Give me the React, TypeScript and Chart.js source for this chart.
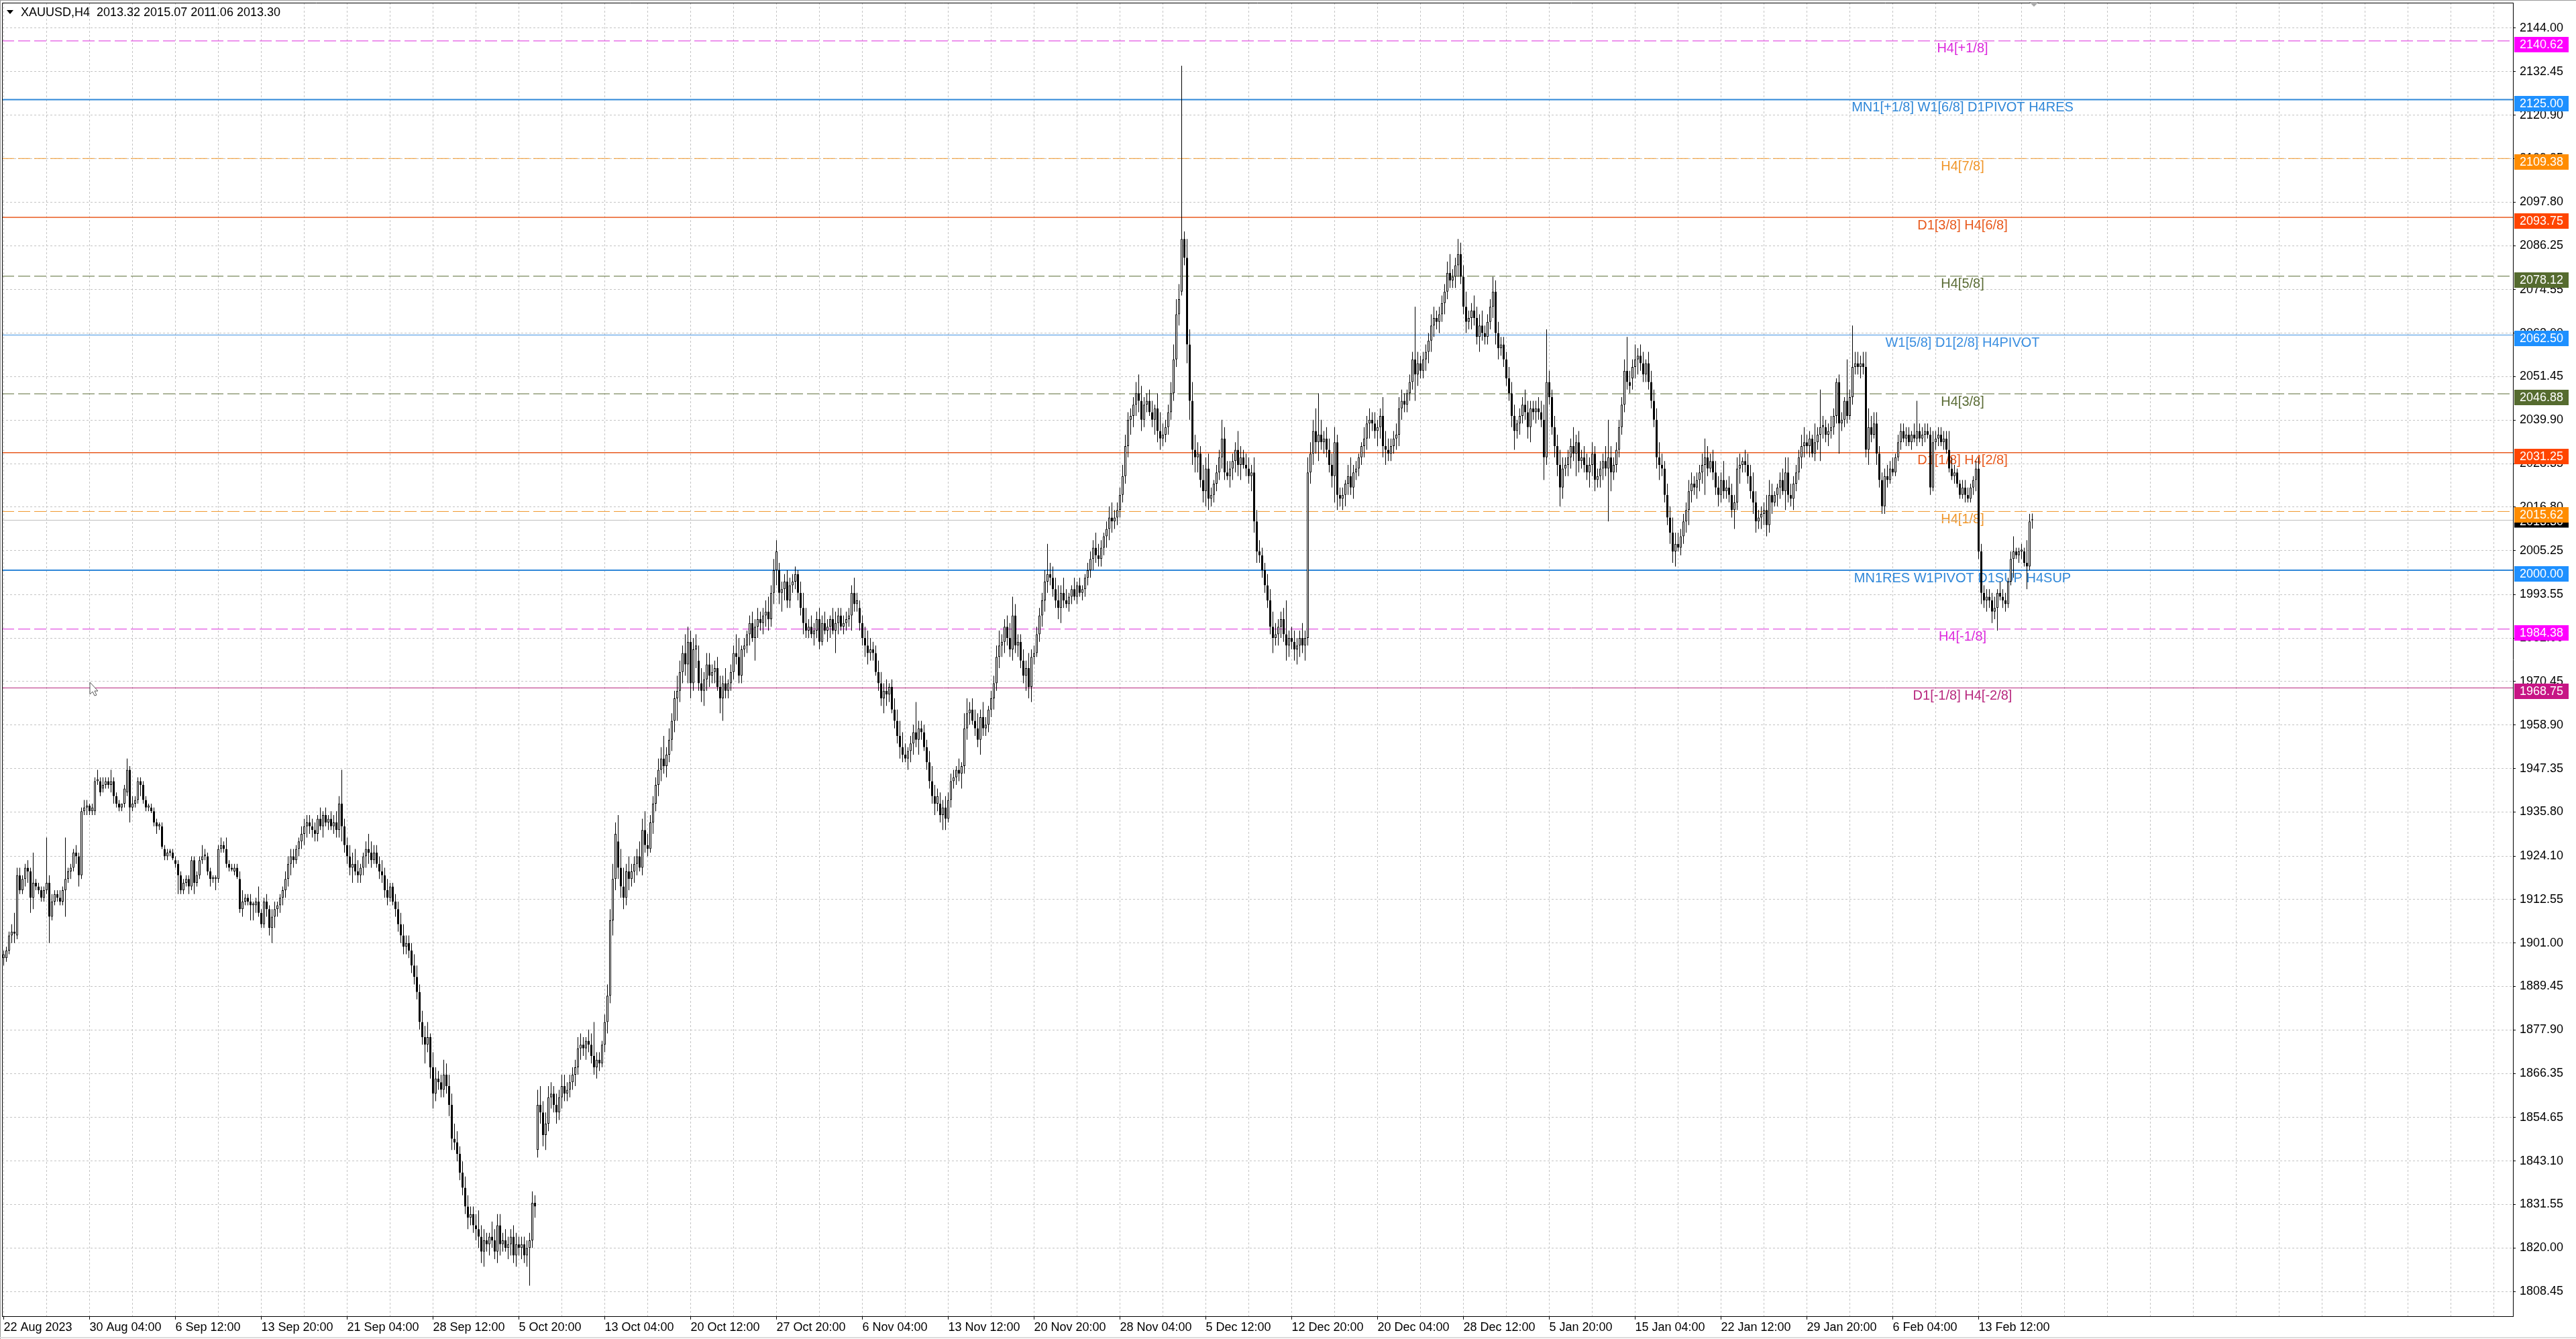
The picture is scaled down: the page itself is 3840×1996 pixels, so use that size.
import React, { useEffect, useRef } from 'react';
import { Chart, registerables } from 'chart.js';
Chart.register(...registerables);

// ---- price bars [open, high, low, close], XAUUSD H4 ----
const ohlcAug: number[][] = [
[1897,1899,1895,1898],[1897,1900,1896,1899],[1899,1904,1898,1903],[1903,1906,1901,1904],[1904,1909,1901,1903.5],[1903,1921,1902,1919],
[1919,1921,1914,1915],[1915,1919,1914,1918],[1918,1922,1916,1921],[1921,1923,1917,1920],[1920,1921,1909,1913],[1913,1925,1910,1917],
[1917,1918,1915,1916],[1916,1917,1914,1915],[1915,1916,1912,1913],[1913,1916,1912,1915],[1915,1929,1914,1917],[1917,1919,1901,1908],
[1908,1914,1907,1912],[1912,1915,1911,1914],[1914,1915,1912,1913],[1913,1915,1911,1912],[1912,1916,1911,1915],[1915,1929,1908,1918],
[1918,1921,1917,1920],[1920,1922,1918,1921],[1921,1926,1920,1925],[1925,1927,1922,1924],[1924,1925,1916,1919],[1919,1937,1918,1936],
[1936,1939,1935,1937],[1937,1939,1935,1937.5],[1937.5,1938,1935,1936],[1936,1938,1935,1937],[1936,1945,1935,1944],[1944,1947,1943,1944.5],
[1944,1945,1940,1941],[1942,1945,1941,1943],[1943,1945,1942,1944],[1944,1945,1942,1943],[1943,1947,1941,1944],[1944,1945,1938,1940],
[1940,1941,1937,1938]
];
const ohlcSep: number[][] = [
[1938,1939,1936,1937],[1937,1938,1936,1938],[1938,1943,1937,1942],[1941,1950,1940,1947],[1947,1948,1933,1937],[1937,1940,1936,1938],
[1938,1940,1937,1939],[1939,1945,1938,1944],[1944,1945,1940,1943],[1943,1944,1938,1939],[1939,1940,1936,1937],[1937,1938,1936,1937.5],
[1937,1938,1935.5,1936],[1936,1937,1932,1933],[1933,1934,1930,1932],[1932,1933,1931,1932.5],[1932,1933,1926,1926.5],[1926,1927,1923,1924],
[1924,1926,1923,1925],[1925,1926,1924,1925.5],[1925,1926,1923,1923.5],[1923,1924,1921,1922],[1922,1923,1914,1919],[1919,1920,1914,1915],
[1915,1918,1914,1917],[1917,1919,1916,1918],[1918,1919,1914,1916],[1916,1924,1915,1923],[1923,1924,1914,1917],[1917,1920,1916,1919],
[1919,1924,1918,1923],[1923,1927,1922,1924],[1924,1926,1923,1924.5],[1924,1925,1919,1920],[1920,1921,1916,1918],[1918,1919,1917,1918.5],
[1918,1919,1915,1918.5],[1918,1927,1917,1926],[1926,1929,1925,1927],[1927,1928,1925,1926],[1926,1929,1921,1922],[1922,1923,1920,1921],
[1921,1922,1920,1920.5],[1920,1922,1919,1921],[1921,1922,1918,1918.5],[1918,1920,1909,1910],[1910,1915,1908,1912],[1912,1914,1911,1913],
[1913,1914,1911,1912],[1912,1914,1907,1911],[1911,1912,1907,1911.5],[1911,1913,1909,1912],[1912,1916,1908,1909],[1909,1910,1905,1906],
[1906,1913,1905,1912],[1912,1914,1908,1910],[1910,1911,1903,1905],[1905,1910,1901,1908],[1908,1912,1905,1910],[1910,1912,1908,1911],
[1911,1914,1909,1913],[1913,1916,1911,1915],[1915,1920,1913,1918],[1918,1924,1916,1922],[1922,1926,1919,1924],[1924,1926,1921,1923],
[1923,1927,1922,1926],[1926,1929,1924,1928],[1928,1932,1926,1930],[1930,1934,1927,1932],[1932,1935,1929,1933],[1933,1935,1930,1932],
[1932,1934,1929,1931],[1931,1933,1928,1930],[1930,1935,1928,1934],[1934,1937,1931,1932],[1932,1936,1929,1935],[1935,1937,1932,1933],
[1933,1935,1931,1934],[1934,1936,1931,1932],[1932,1935,1930,1933],[1933,1936,1929,1931],[1931,1940,1929,1938],[1938,1947,1928,1932],
[1932,1934,1925,1927],[1927,1929,1922,1924],[1924,1927,1919,1921],[1921,1925,1917,1922],[1922,1926,1919,1920],[1920,1923,1917,1919],
[1919,1922,1917,1921],[1921,1925,1919,1924],[1924,1928,1921,1926],[1926,1930,1922,1925],[1925,1928,1921,1923],[1923,1927,1922,1925],
[1925,1927,1921,1922],[1922,1924,1918,1920],[1920,1923,1917,1919],[1919,1921,1913,1915],[1915,1918,1911,1913],[1913,1917,1912,1916],
[1916,1917,1911,1912],[1912,1914,1908,1910],[1910,1912,1904,1906],[1906,1909,1901,1903],[1903,1906,1898,1900],[1900,1903,1898,1901],
[1901,1903,1897,1899],[1899,1901,1893,1895],[1895,1898,1890,1892],[1892,1895,1886,1888],[1888,1890,1878,1880],[1880,1883,1874,1876],
[1876,1879,1869,1874],[1874,1880,1872,1876],[1876,1877,1865,1868],[1868,1872,1857,1861],[1861,1868,1859,1865],[1865,1867,1862,1864],
[1864,1866,1860,1862],[1862,1870,1860,1866],[1866,1869,1861,1863],[1863,1866,1855,1858],[1858,1861,1846,1849],[1849,1853,1846,1848]
];
const ohlcOct: number[][] = [
[1848,1851,1843,1845],[1845,1847,1838,1840],[1840,1843,1834,1836],[1836,1839,1829,1831],[1831,1834,1825,1828],[1828,1831,1826,1829],
[1829,1831,1824,1826],[1826,1829,1822,1825],[1825,1830,1820,1823],[1823,1826,1816,1819],[1819,1825,1815,1822],[1822,1824,1819,1821],
[1821,1824,1818,1823],[1823,1827,1820,1822],[1822,1825,1817,1819],[1819,1829,1816,1826],[1826,1829,1818,1821],[1821,1824,1819,1822],
[1822,1825,1819,1820],[1820,1823,1817,1821],[1821,1825,1818,1823],[1823,1826,1816,1818],[1818,1824,1815,1821],[1821,1823,1818,1820],
[1820,1823,1817,1821],[1821,1823,1816,1818],[1818,1822,1815,1820],[1820,1824,1810,1822],[1822,1835,1820,1832],[1832,1834,1828,1831],
[1846,1862,1844,1858],[1858,1863,1853,1856],[1856,1859,1847,1850],[1850,1856,1846,1853],[1853,1863,1851,1860],[1860,1864,1857,1861],
[1861,1863,1856,1858],[1858,1861,1853,1856],[1856,1862,1854,1860],[1860,1866,1857,1863],[1863,1866,1859,1861],[1861,1864,1859,1862],
[1862,1866,1860,1864],[1864,1868,1862,1866],[1866,1870,1863,1868],[1868,1876,1866,1873],[1873,1877,1870,1874],[1874,1876,1871,1873],
[1873,1876,1870,1875],[1875,1878,1872,1874],[1874,1877,1869,1871],[1871,1880,1866,1868],[1868,1872,1865,1870],[1870,1872,1867,1869],
[1869,1875,1868,1874],[1874,1882,1872,1880],[1880,1890,1877,1887],[1887,1910,1885,1907],[1907,1922,1903,1918],[1918,1933,1915,1930],
[1928,1935,1918,1921],[1921,1926,1913,1916],[1916,1921,1910,1913],[1913,1922,1911,1920],[1920,1924,1915,1918],[1918,1922,1916,1920],
[1920,1924,1917,1922],[1922,1926,1919,1924],[1924,1928,1920,1921],[1921,1934,1919,1931],[1931,1936,1925,1927],[1927,1930,1924,1926],
[1926,1935,1925,1933],[1933,1940,1930,1938],[1938,1945,1936,1943],[1943,1950,1940,1947],[1947,1953,1944,1950],[1950,1956,1946,1948],
[1948,1953,1945,1951],[1951,1958,1949,1955],[1955,1962,1952,1960],[1960,1968,1957,1966],[1966,1972,1960,1968],[1968,1976,1965,1973],
[1973,1980,1970,1978],[1978,1983,1972,1975],[1975,1985,1970,1981],[1981,1984,1966,1970],[1970,1982,1968,1979],[1979,1983,1974,1980],
[1976,1980,1968,1970],[1970,1974,1965,1968],[1968,1973,1964,1971],[1971,1978,1968,1975],[1975,1978,1969,1972],[1972,1975,1970,1973],
[1973,1976,1970,1974],[1974,1977,1968,1969],[1969,1972,1962,1966],[1966,1972,1960,1970],[1970,1974,1966,1968],[1968,1971,1966,1970],
[1970,1975,1968,1973],[1973,1980,1971,1978],[1978,1983,1975,1977],[1977,1982,1970,1972],[1972,1980,1970,1979],[1979,1982,1977,1980],
[1980,1984,1978,1983],[1983,1988,1980,1986],[1986,1989,1981,1982],[1982,1987,1976,1985],[1985,1990,1982,1987],[1987,1989,1984,1986],
[1986,1990,1983,1988],[1988,1992,1985,1989],[1989,1993,1984,1987],[1987,1996,1985,1994],[1994,2003,1991,2000],[2000,2008,1996,2005],
[2000,2002,1991,1994],[1994,1997,1989,1995],[1995,1999,1992,1997],[1997,2000,1990,1992],[1992,1998,1990,1996],[1996,1999,1994,1997],
[1997,2001,1995,1999],[1999,2000,1992,1994],[1994,1997,1988,1990],[1990,1994,1983,1986],[1986,1990,1982,1984],[1984,1987,1982,1985]
];
const ohlcNov: number[][] = [
[1985,1988,1982,1983],[1983,1986,1980,1984],[1984,1989,1982,1987],[1987,1990,1979,1981],[1981,1988,1980,1986],[1986,1989,1983,1984],
[1984,1987,1981,1985],[1985,1988,1982,1987],[1987,1990,1983,1984],[1984,1989,1978,1986],[1986,1990,1983,1988],[1988,1990,1984,1985],
[1985,1988,1983,1986],[1986,1989,1984,1987],[1987,1990,1985,1988],[1988,1996,1984,1994],[1994,1998,1989,1991],[1991,1994,1989,1992],
[1990,1992,1984,1986],[1986,1988,1980,1982],[1982,1985,1977,1980],[1980,1984,1975,1978],[1978,1982,1976,1979],[1979,1981,1976,1978],
[1978,1980,1972,1973],[1973,1976,1968,1970],[1970,1973,1964,1966],[1966,1970,1962,1968],[1968,1971,1964,1967],[1967,1970,1965,1969],
[1969,1971,1962,1963],[1963,1966,1958,1960],[1960,1963,1954,1956],[1956,1960,1950,1953],[1953,1957,1949,1951],[1951,1954,1949,1950],
[1950,1953,1947,1952],[1952,1956,1949,1954],[1954,1959,1951,1957],[1957,1965,1953,1955],[1955,1960,1951,1958],[1958,1960,1955,1957],
[1957,1959,1952,1953],[1953,1955,1947,1949],[1949,1952,1942,1944],[1944,1948,1938,1940],[1940,1943,1935,1938],[1938,1942,1936,1940],
[1938,1941,1933,1935],[1935,1939,1931,1937],[1937,1940,1931,1934],[1934,1941,1933,1939],[1939,1946,1937,1944],[1944,1947,1942,1945],
[1945,1948,1943,1947],[1947,1950,1944,1946],[1946,1949,1942,1948],[1948,1962,1946,1958],[1958,1966,1955,1962],[1962,1965,1959,1963],
[1963,1966,1959,1960],[1960,1963,1956,1958],[1958,1962,1953,1955],[1955,1963,1951,1961],[1961,1965,1956,1958],[1958,1961,1956,1959],
[1959,1964,1957,1963],[1963,1968,1961,1966],[1966,1972,1963,1970],[1970,1980,1968,1977],[1977,1984,1974,1980],[1980,1983,1977,1981],
[1981,1987,1978,1985],[1985,1988,1980,1982],[1982,1986,1977,1979],[1979,1993,1976,1988],[1988,1991,1978,1980],[1980,1983,1977,1981],
[1981,1983,1974,1976],[1976,1979,1970,1972],[1972,1976,1968,1974],[1974,1978,1966,1969],[1969,1979,1965,1977],[1977,1980,1975,1978],
[1978,1985,1977,1983],[1983,1990,1981,1988],[1988,1994,1985,1992],[1992,2000,1989,1997],[1997,2007,1994,1999],[1999,2002,1996,1998],
[1998,2001,1993,1995],[1995,1998,1990,1992],[1992,1996,1987,1990],[1990,1996,1986,1994],[1994,1998,1990,1992],[1992,1995,1990,1991],
[1991,1994,1989,1993],[1993,1996,1991,1995],[1995,1998,1992,1993],[1993,1997,1991,1996],[1996,1998,1993,1994],[1994,1996,1992,1995],
[1995,1999,1993,1998],[1998,2002,1996,2000],[2000,2005,1998,2003],[2003,2008,2000,2006],[2006,2010,2002,2004],[2004,2007,2001,2003],
[2003,2008,2001,2006],[2006,2010,2004,2009],[2009,2013,2006,2011],[2011,2017,2008,2014],[2014,2018,2010,2013],[2013,2016,2011,2014],
[2014,2018,2012,2016],[2016,2022,2014,2020],[2020,2028,2018,2025],[2025,2036,2023,2033],[2033,2042,2030,2040],[2040,2043,2036,2041],
[2041,2046,2038,2044],[2044,2050,2041,2047],[2047,2052,2042,2045],[2045,2049,2037,2040],[2040,2046,2038,2044],[2044,2047,2042,2045],
[2045,2048,2041,2042],[2042,2045,2038,2040],[2040,2044,2036,2043],[2043,2047,2034,2037],[2037,2042,2032,2035],[2035,2039,2033,2036]
];
const ohlcDec: number[][] = [
[2036,2040,2034,2038],[2038,2044,2036,2042],[2042,2050,2040,2047],[2047,2060,2045,2056],[2056,2072,2054,2068],[2068,2076,2065,2072],
[2074,2134,2073,2088],[2088,2090,2081,2083],[2083,2088,2055,2060],[2060,2064,2040,2045],[2045,2050,2028,2032],[2032,2036,2026,2030],
[2030,2034,2026,2031],[2031,2033,2022,2024],[2024,2028,2018,2021],[2021,2030,2017,2027],[2027,2031,2016,2019],[2019,2022,2017,2020],
[2020,2024,2018,2023],[2023,2028,2021,2026],[2026,2032,2024,2030],[2030,2040,2027,2035],[2035,2038,2024,2026],[2026,2029,2024,2025],
[2025,2029,2022,2027],[2027,2031,2024,2029],[2029,2034,2026,2032],[2032,2037,2025,2028],[2028,2033,2024,2030],[2030,2032,2027,2028],
[2028,2031,2025,2027],[2027,2030,2023,2025],[2025,2028,2021,2026],[2026,2030,2010,2013],[2013,2016,2002,2005],[2005,2008,2002,2004],
[2004,2006,1998,2000],[2000,2002,1994,1996],[1996,1999,1990,1992],[1992,1995,1983,1985],[1985,1989,1978,1982],[1982,1986,1980,1983],
[1983,1987,1980,1985],[1985,1989,1982,1987],[1987,1990,1981,1983],[1983,1992,1976,1980],[1980,1984,1977,1982],[1982,1985,1979,1981],
[1981,1984,1976,1979],[1979,1982,1975,1980],[1980,1984,1977,1982],[1982,1986,1978,1980],[1980,1984,1976,1982],[1982,2030,1980,2026],
[2026,2034,2023,2031],[2031,2040,2028,2037],[2037,2043,2031,2034],[2034,2047,2029,2036],[2036,2040,2032,2034],[2034,2037,2031,2035],
[2035,2038,2030,2032],[2032,2035,2026,2028],[2028,2031,2022,2025],[2025,2038,2018,2034],[2034,2036,2016,2020],[2020,2022,2017,2019],
[2019,2022,2016,2020],[2020,2024,2017,2023],[2023,2028,2020,2025],[2025,2030,2020,2022],[2022,2028,2019,2026],[2026,2029,2024,2027],
[2027,2031,2025,2030],[2030,2034,2028,2033],[2033,2038,2030,2035],[2035,2041,2032,2039],[2039,2043,2035,2040],[2040,2042,2037,2039],
[2039,2042,2035,2037],[2037,2040,2033,2038],[2038,2043,2035,2041],[2041,2046,2030,2033],[2033,2037,2028,2032],[2032,2035,2029,2031],
[2031,2035,2029,2033],[2033,2037,2031,2035],[2035,2039,2032,2036],[2036,2046,2033,2043],[2043,2048,2040,2045],[2045,2047,2042,2044],
[2044,2048,2042,2047],[2047,2052,2045,2050],[2050,2058,2048,2056],[2056,2070,2045,2052],[2052,2058,2049,2055],[2055,2057,2051,2053],
[2053,2058,2051,2056],[2056,2060,2053,2058],[2058,2063,2055,2061],[2061,2068,2058,2065],[2065,2070,2062,2067],[2067,2069,2064,2066],
[2066,2070,2063,2068],[2068,2073,2066,2071],[2071,2076,2068,2074],[2074,2082,2072,2079],[2079,2084,2075,2077],[2077,2080,2075,2078],
[2078,2083,2075,2081],[2081,2088,2078,2084],[2084,2087,2076,2078],[2078,2081,2068,2070],[2070,2074,2063,2066],[2066,2069,2064,2067],
[2067,2071,2064,2069],[2069,2073,2065,2067],[2067,2070,2060,2062],[2062,2068,2058,2065],[2065,2069,2061,2063],[2063,2065,2060,2062]
];
const ohlcJan: number[][] = [
[2062,2068,2060,2066],[2066,2072,2064,2070],[2070,2078,2067,2074],[2074,2077,2060,2063],[2063,2066,2056,2059],[2059,2062,2057,2060],
[2060,2062,2054,2056],[2056,2058,2049,2051],[2051,2054,2045,2047],[2047,2050,2038,2041],[2041,2044,2032,2037],[2037,2040,2035,2039],
[2039,2043,2036,2041],[2041,2046,2039,2044],[2044,2048,2040,2042],[2042,2045,2035,2038],[2038,2045,2034,2043],[2043,2045,2040,2042],
[2042,2045,2039,2043],[2043,2046,2040,2042],[2042,2045,2038,2040],[2040,2044,2024,2030],[2030,2064,2028,2050],[2050,2053,2044,2046],
[2046,2048,2036,2038],[2038,2041,2030,2033],[2033,2036,2025,2028],[2028,2032,2017,2022],[2022,2030,2019,2027],[2027,2030,2025,2028],
[2028,2032,2025,2030],[2030,2035,2027,2033],[2033,2038,2029,2031],[2031,2036,2025,2034],[2034,2037,2026,2029],[2029,2032,2027,2030],
[2030,2033,2026,2028],[2028,2031,2024,2026],[2026,2030,2022,2028],[2028,2034,2025,2031],[2031,2033,2021,2024],[2024,2027,2022,2025],
[2025,2029,2022,2027],[2027,2031,2024,2029],[2029,2033,2025,2027],[2027,2040,2013,2030],[2030,2033,2021,2026],[2026,2030,2024,2028],
[2028,2034,2026,2032],[2032,2040,2030,2038],[2038,2046,2036,2044],[2044,2056,2042,2053],[2053,2062,2048,2050],[2050,2053,2047,2049],
[2051,2056,2048,2054],[2054,2060,2051,2056],[2056,2059,2052,2057],[2057,2060,2053,2055],[2055,2058,2050,2052],[2052,2056,2050,2055],
[2055,2058,2048,2050],[2050,2053,2043,2045],[2045,2048,2038,2040],[2040,2043,2027,2030],[2030,2034,2024,2028],[2028,2031,2025,2027],
[2027,2029,2018,2020],[2020,2023,2012,2014],[2014,2017,2007,2010],[2010,2014,2002,2005],[2005,2010,2001,2007],[2007,2010,2005,2006],
[2006,2011,2004,2009],[2009,2015,2007,2013],[2013,2018,2010,2016],[2016,2024,2012,2021],[2021,2026,2018,2023],[2023,2025,2020,2022],
[2022,2026,2019,2024],[2024,2028,2021,2026],[2026,2031,2023,2028],[2028,2035,2020,2030],[2030,2033,2025,2027],[2027,2031,2026,2029],
[2029,2032,2024,2026],[2026,2029,2020,2022],[2022,2025,2017,2020],[2020,2026,2018,2024],[2024,2029,2019,2021],[2021,2024,2019,2022],
[2022,2025,2018,2020],[2020,2023,2014,2016],[2016,2020,2011,2018],[2018,2030,2016,2027],[2027,2031,2023,2028],[2028,2030,2026,2029],
[2029,2032,2026,2028],[2028,2031,2023,2025],[2025,2028,2019,2021],[2021,2026,2015,2018],[2018,2021,2010,2013],[2013,2016,2011,2014],
[2014,2017,2011,2015],[2015,2018,2012,2016],[2016,2020,2009,2012],[2012,2024,2010,2020],[2020,2023,2015,2018],[2018,2021,2017,2020],
[2020,2023,2017,2022],[2022,2026,2019,2024],[2024,2027,2020,2021],[2021,2030,2016,2026],[2026,2030,2018,2020],[2020,2023,2017,2019],
[2019,2025,2016,2023],[2023,2028,2021,2026],[2026,2032,2024,2030],[2030,2036,2027,2033],[2033,2038,2030,2034],[2034,2036,2031,2033],
[2033,2037,2030,2035],[2035,2036,2030,2031],[2031,2039,2029,2034],[2034,2038,2032,2036],[2036,2048,2029,2038],[2038,2041,2035,2038.5],
[2038,2040,2034,2036],[2036,2039,2033,2037],[2037,2041,2035,2038],[2038,2043,2036,2041],[2041,2051,2039,2050],[2050,2052,2031,2039]
];
const ohlcFeb: number[][] = [
[2039,2042,2037,2040],[2040,2046,2038,2045],[2045,2056,2039,2041],[2041,2048,2040,2046],[2046,2065,2044,2054],[2054,2058,2052,2055],
[2055,2058,2052,2054],[2054,2057,2051,2055],[2055,2058,2052,2054],[2054,2058,2030,2032],[2032,2043,2028,2038],[2038,2041,2034,2036],
[2036,2042,2035,2039],[2039,2042,2028,2031],[2031,2033,2022,2024],[2024,2026,2015,2017],[2017,2027,2015,2025],[2025,2028,2022,2024],
[2024,2029,2023,2027],[2027,2030,2025,2026],[2026,2031,2025,2030],[2030,2036,2029,2034],[2034,2039,2032,2037],[2037,2039,2034,2035],
[2035,2038,2033,2036],[2036,2038,2033,2034],[2034,2037,2032,2036],[2036,2039,2034,2035],[2035,2045,2033,2037],[2037,2039,2034,2035],
[2035,2038,2033,2036],[2036,2039,2034,2037],[2037,2039,2035,2036],[2036,2038,2020,2022],[2022,2037,2021,2034],[2034,2037,2032,2035],
[2035,2038,2033,2036],[2036,2038,2033,2034],[2034,2037,2032,2035],[2035,2037,2031,2032],[2032,2037,2026,2027],[2027,2030,2024,2025],
[2025,2028,2023,2026],[2026,2027,2022,2023],[2023,2024,2019,2020],[2020,2024,2019,2022],[2022,2024,2018,2020],[2020,2022,2018,2019],
[2019,2023,2018,2022],[2022,2025,2020,2024],[2024,2029,2021,2027],[2027,2030,2003,2005],[2005,2007,1991,1994],[1994,1996,1990,1992],
[1992,1995,1989,1993],[1993,1995,1990,1992],[1992,1994,1986,1989],[1989,1993,1987,1990],[1990,1995,1984,1994],[1994,1997,1992,1993],
[1993,1995,1990,1992],[1992,1994,1989,1991],[1991,1998,1990,1997],[1997,2005,1996,2003],[2003,2009,1998,2005],[2005,2006,2003,2004],
[2004,2006,2002,2005],[2005,2007,2003,2005.5],[2005,2006,2001,2002],[2002,2008,1995,2001],[2001,2015,2000,2013],[2013.32,2015.07,2011.06,2013.30]
];

// ---- axes ----
const xTickLabels = ['22 Aug 2023','30 Aug 04:00','6 Sep 12:00','13 Sep 20:00','21 Sep 04:00','28 Sep 12:00','5 Oct 20:00','13 Oct 04:00',
  '20 Oct 12:00','27 Oct 20:00','6 Nov 04:00','13 Nov 12:00','20 Nov 20:00','28 Nov 04:00','5 Dec 12:00','12 Dec 20:00','20 Dec 04:00',
  '28 Dec 12:00','5 Jan 20:00','15 Jan 04:00','22 Jan 12:00','29 Jan 20:00','6 Feb 04:00','13 Feb 12:00'];
const barsPerLabel = 32;
const barsPerGrid = 16;
const yTickValues = [2144.00,2132.45,2120.90,2109.35,2097.80,2086.25,2074.55,2063.00,2051.45,2039.90,2028.35,2016.80,2005.25,1993.55,
  1982.00,1970.45,1958.90,1947.35,1935.80,1924.10,1912.55,1901.00,1889.45,1877.90,1866.35,1854.65,1843.10,1831.55,1820.00,1808.45];
const yMin = 1801.87;
const yMax = 2150.77;

// ---- level lines ----
const levelPrices = [2140.62,2125.00,2109.38,2093.75,2078.12,2062.50,2046.88,2031.25,2015.62,2000.00,1984.38,1968.75];
const levelNames = ['H4[+1/8]','MN1[+1/8] W1[6/8] D1PIVOT H4RES','H4[7/8]','D1[3/8] H4[6/8]','H4[5/8]','W1[5/8] D1[2/8] H4PIVOT',
  'H4[3/8]','D1[1/8] H4[2/8]','H4[1/8]','MN1RES W1PIVOT D1SUP H4SUP','H4[-1/8]','D1[-1/8] H4[-2/8]'];
const levelColors = ['#dc28dc','#2f87d8','#f0962a','#e85a1e','#5a6b35','#3a8ee0','#5a6b35','#e85a1e','#f0962a','#2f87d8','#dc28dc','#b8287e'];
const levelBoxColors = ['#ff00ff','#1e90ff','#ff8c00','#ff4500','#556b2f','#1e90ff','#556b2f','#ff4500','#ff8c00','#1e90ff','#ff00ff','#c71585'];
const levelDashed = [true,false,true,false,true,false,true,false,true,false,true,false];
const levelWidths = [1,2,1,1.5,1,1,1,1.5,1,2,1,1];
const labelBar = 730;
const lastPrice = 2013.30;
const headerText = 'XAUUSD,H4  2013.32 2015.07 2011.06 2013.30';

const FONT = '"Liberation Sans", Arial, sans-serif';

export default function App() {
  const ref = useRef<HTMLCanvasElement | null>(null);
  useEffect(() => {
    document.body.style.margin = '0';
    const canvas = ref.current;
    if (!canvas) return;
    const bars = [...ohlcAug, ...ohlcSep, ...ohlcOct, ...ohlcNov, ...ohlcDec, ...ohlcJan, ...ohlcFeb];
    const W = 3840, H = 1996;
    const plotLeft = 3, axisW = 94, axisH = 34, plotTop = 4;
    const plotWidth = W - plotLeft - axisW;
    const xMin = (plotLeft - 5.5) / 4;
    const xMax = xMin + plotWidth / 4;

    const wickData = bars.map((b, i) => ({ x: i, y: [b[2], b[1]] }));
    const bodyData = bars.map((b, i) => {
      const lo = Math.min(b[0], b[3]);
      let hi = Math.max(b[0], b[3]);
      if (hi - lo < 0.2) hi = lo + 0.2;
      return { x: i, y: [lo, hi] };
    });
    const bodyColors = bars.map((b) => (b[3] >= b[0] ? '#ffffff' : '#000000'));

    const levelSets = levelPrices.map((p, k) => ({
      type: 'line' as const,
      data: [{ x: xMin, y: p }, { x: xMax, y: p }],
      borderColor: levelColors[k],
      borderWidth: levelWidths[k],
      borderDash: levelDashed[k] ? [18, 6] : [],
      pointRadius: 0,
      fill: false,
      order: 10,
    }));
    const lastLine = {
      type: 'line' as const,
      data: [{ x: xMin, y: lastPrice }, { x: xMax, y: lastPrice }],
      borderColor: '#c0c0c0', borderWidth: 1, pointRadius: 0, fill: false, order: 11,
    };

    const overlay = {
      id: 'overlay',
      beforeDatasetsDraw(chart: any) {
        const { ctx, scales } = chart;
        const xs = scales.x, ys = scales.y;
        ctx.save();
        ctx.font = '20px ' + FONT;
        ctx.textAlign = 'center';
        ctx.textBaseline = 'middle';
        levelPrices.forEach((p, k) => {
          ctx.fillStyle = levelColors[k];
          ctx.fillText(levelNames[k], xs.getPixelForValue(labelBar), ys.getPixelForValue(p) + 12);
        });
        ctx.restore();
      },
      afterDraw(chart: any) {
        const { ctx, chartArea, scales } = chart;
        const ys = scales.y;
        ctx.save();
        ctx.strokeStyle = '#000';
        ctx.lineWidth = 1;
        ctx.beginPath();
        ctx.moveTo(chartArea.left + 0.5, chartArea.top + 0.5);
        ctx.lineTo(chartArea.right, chartArea.top + 0.5);
        ctx.moveTo(chartArea.left + 0.5, chartArea.top + 0.5);
        ctx.lineTo(chartArea.left + 0.5, chartArea.bottom);
        ctx.stroke();
        ctx.fillStyle = '#9a9a9a';
        ctx.fillRect(0, 0, W, 1);
        ctx.fillRect(0, 0, 1, H);
        ctx.fillStyle = '#dcdcdc';
        ctx.fillRect(0, H - 3, W, 2);
        ctx.font = '18px ' + FONT;
        ctx.textAlign = 'left';
        ctx.textBaseline = 'middle';
        const boxX = chartArea.right + 2;
        const boxW = 81;
        const ly = ys.getPixelForValue(lastPrice);
        ctx.fillStyle = '#000';
        ctx.fillRect(boxX, ly - 6, boxW, 17);
        ctx.fillStyle = '#fff';
        ctx.fillText(lastPrice.toFixed(2), chartArea.right + 10, ly + 3);
        levelPrices.forEach((p, k) => {
          const py = ys.getPixelForValue(p);
          ctx.fillStyle = levelBoxColors[k];
          ctx.fillRect(boxX, Math.round(py) - 6, boxW, 23);
          ctx.fillStyle = '#fff';
          ctx.fillText(p.toFixed(2), chartArea.right + 10, Math.round(py) + 6);
        });
        ctx.fillStyle = '#000';
        ctx.beginPath();
        ctx.moveTo(10, 15); ctx.lineTo(20, 15); ctx.lineTo(15, 21); ctx.closePath();
        ctx.fill();
        ctx.font = '18px ' + FONT;
        ctx.fillText(headerText, 31, 19);
        ctx.fillStyle = '#a8a8a8';
        ctx.beginPath();
        ctx.moveTo(3025, 3); ctx.lineTo(3039, 3); ctx.lineTo(3032, 10); ctx.closePath();
        ctx.fill();
        ctx.beginPath();
        const cx = 134, cy = 1017;
        ctx.moveTo(cx, cy); ctx.lineTo(cx, cy + 18); ctx.lineTo(cx + 4, cy + 14); ctx.lineTo(cx + 7, cy + 20);
        ctx.lineTo(cx + 10, cy + 19); ctx.lineTo(cx + 7, cy + 13); ctx.lineTo(cx + 12, cy + 13); ctx.closePath();
        ctx.fillStyle = '#fff'; ctx.fill();
        ctx.strokeStyle = '#555'; ctx.lineWidth = 1; ctx.stroke();
        ctx.restore();
      },
    };

    const chart = new Chart(canvas, {
      type: 'bar',
      data: {
        datasets: [
          ...levelSets,
          lastLine,
          {
            type: 'bar', data: wickData as any, barThickness: 1, backgroundColor: '#000', borderWidth: 0,
            grouped: false, order: 2, inflateAmount: 0,
          } as any,
          {
            type: 'bar', data: bodyData as any, barThickness: 3, backgroundColor: bodyColors, borderColor: '#000',
            borderWidth: 1, borderSkipped: false, grouped: false, order: 1, inflateAmount: 0,
          } as any,
        ] as any,
      },
      options: {
        responsive: false,
        animation: false,
        devicePixelRatio: 1,
        events: [],
        layout: { padding: { left: plotLeft, top: plotTop, right: 0, bottom: 0 } },
        plugins: { legend: { display: false }, tooltip: { enabled: false } },
        scales: {
          x: {
            type: 'linear',
            position: 'bottom',
            min: xMin,
            max: xMax,
            offset: false,
            grid: {
              offset: false,
              color: '#c4c4c4',
              lineWidth: 1,
              tickLength: 5,
              tickColor: (c: any) => (c.tick && c.tick.value % barsPerLabel === 0 && c.tick.value / barsPerLabel < xTickLabels.length ? '#000' : 'rgba(0,0,0,0)'),
            },
            border: { display: true, color: '#000', width: 1, dash: [3, 3] },
            ticks: {
              autoSkip: false, maxRotation: 0, minRotation: 0, align: 'start', padding: 1,
              font: { family: FONT, size: 18 }, color: '#000',
              callback: (v: any) => {
                const n = Math.round(Number(v));
                if (n % barsPerLabel !== 0) return '';
                return xTickLabels[n / barsPerLabel] || '';
              },
            },
            afterBuildTicks: (s: any) => {
              const t = [];
              for (let v = 0; v <= xMax; v += barsPerGrid) t.push({ value: v });
              s.ticks = t;
            },
            afterFit: (s: any) => { s.height = axisH; s.paddingLeft = 0; s.paddingRight = 0; },
          } as any,
          y: {
            type: 'linear',
            position: 'right',
            min: yMin,
            max: yMax,
            grid: { color: '#c4c4c4', lineWidth: 1, tickLength: 4, tickColor: '#000' },
            border: { display: true, color: '#000', width: 1, dash: [3, 3] },
            ticks: {
              autoSkip: false, padding: 6, font: { family: FONT, size: 18 }, color: '#000',
              callback: (v: any) => Number(v).toFixed(2),
            },
            afterBuildTicks: (s: any) => { s.ticks = yTickValues.map((v) => ({ value: v })); },
            afterFit: (s: any) => { s.width = axisW; s.paddingTop = 0; s.paddingBottom = 0; },
          } as any,
        },
      },
      plugins: [overlay],
    } as any);
    return () => chart.destroy();
  }, []);
  return <canvas ref={ref} width={3840} height={1996} style={{ display: 'block', width: '3840px', height: '1996px' }} />;
}
